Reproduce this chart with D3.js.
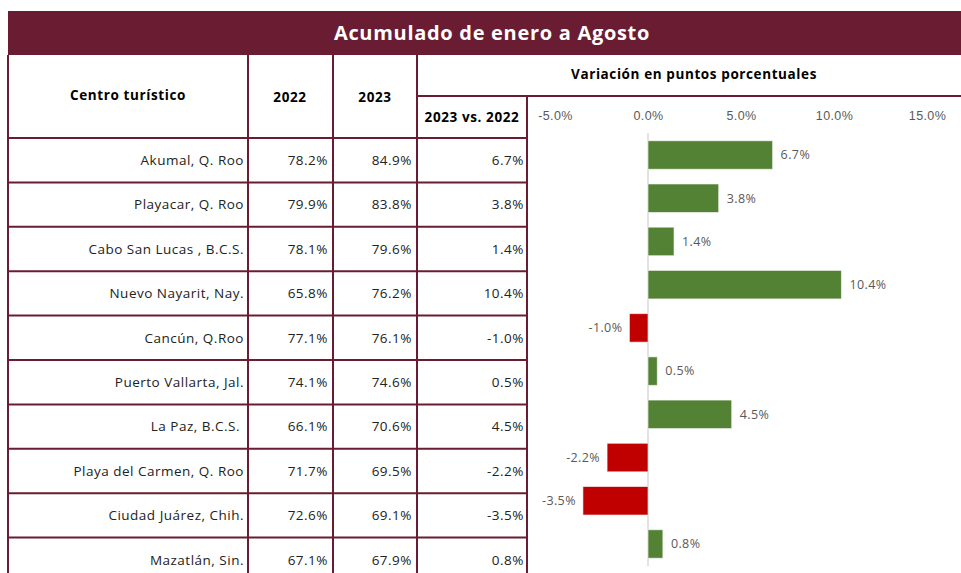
<!DOCTYPE html>
<html lang="es">
<head>
  <meta charset="UTF-8">
  <title>Acumulado de enero a Agosto</title>
  <script src="https://d3js.org/d3.v7.min.js"></script>
  <style>
    body { margin: 0; background: #fff; font-family: "Open Sans", sans-serif; }
    svg { display: block; }
    .hdr { font-weight: bold; font-size: 13.5px; fill: #000; text-anchor: middle; letter-spacing: 0.6px; }
    .cell { font-size: 13.5px; fill: #222; text-anchor: end; white-space: pre; letter-spacing: 0.5px; }
    .val { font-size: 12.5px; fill: #595959; letter-spacing: 0.4px; }
    .axis text { font-size: 12.5px; fill: #595959; letter-spacing: 0.4px; }
  </style>
</head>
<body>
<script>
  const places = [
    "Akumal, Q. Roo", "Playacar, Q. Roo", "Cabo San Lucas , B.C.S.", "Nuevo Nayarit, Nay.",
    "Cancún, Q.Roo", "Puerto Vallarta, Jal.", "La Paz, B.C.S. ", "Playa del Carmen, Q. Roo",
    "Ciudad Juárez, Chih.", "Mazatlán, Sin."
  ];
  const occ2022 = [78.2, 79.9, 78.1, 65.8, 77.1, 74.1, 66.1, 71.7, 72.6, 67.1];
  const occ2023 = [84.9, 83.8, 79.6, 76.2, 76.1, 74.6, 70.6, 69.5, 69.1, 67.9];
  const change = [6.7, 3.8, 1.4, 10.4, -1.0, 0.5, 4.5, -2.2, -3.5, 0.8];
  const xTicks = [-5, 0, 5, 10, 15];

  const W = 961, H = 573;
  const maroon = "#691c32";
  const fmt = d => d.toFixed(1) + "%";

  const svg = d3.select("body").append("svg").attr("width", W).attr("height", H);

  // column edges of the table
  const colX = [8, 248, 333, 417, 527];
  const tableTop = 138;

  const rowY = d3.scaleBand().domain(places).range([tableTop, tableTop + 44.4 * places.length]);
  const barY = d3.scaleBand().domain(places).range([133.4, 565.6]).paddingInner(0.34).paddingOuter(0.17);
  const x = d3.scaleLinear().domain([-5, 15]).range([555, 927]);

  // title band
  svg.append("rect").attr("x", 8).attr("y", 11).attr("width", W - 8).attr("height", 44).attr("fill", maroon);
  svg.append("text").attr("x", 492).attr("y", 33).attr("dy", "0.35em")
    .attr("text-anchor", "middle").attr("fill", "#fff")
    .style("font-weight", "bold").style("font-size", "20px").style("letter-spacing", "0.7px")
    .text("Acumulado de enero a Agosto");

  // header texts
  svg.append("text").attr("class", "hdr").attr("x", 128).attr("y", 95).attr("dy", "0.35em").text("Centro turístico");
  svg.append("text").attr("class", "hdr").attr("x", 290).attr("y", 97).attr("dy", "0.35em").text("2022");
  svg.append("text").attr("class", "hdr").attr("x", 375).attr("y", 97).attr("dy", "0.35em").text("2023");
  svg.append("text").attr("class", "hdr").attr("x", 472).attr("y", 117).attr("dy", "0.35em").text("2023 vs. 2022");
  svg.append("text").attr("class", "hdr").attr("x", 694).attr("y", 74).attr("dy", "0.35em").text("Variación en puntos porcentuales");

  // grid lines
  const grid = svg.append("g").attr("stroke", maroon).attr("stroke-width", 2).attr("fill", "none");
  const tableBottom = rowY.range()[1];
  colX.forEach((cx, i) => {
    const top = i === colX.length - 1 ? 96 : 55;
    grid.append("line").attr("x1", cx).attr("x2", cx).attr("y1", top).attr("y2", tableBottom);
  });
  grid.append("line").attr("x1", 417).attr("x2", W).attr("y1", 96).attr("y2", 96);
  places.forEach(p => {
    grid.append("line").attr("x1", 8).attr("x2", 527).attr("y1", rowY(p)).attr("y2", rowY(p));
  });

  // table rows
  const rows = svg.append("g").selectAll("g").data(places).join("g")
    .attr("transform", p => `translate(0,${rowY(p) + rowY.bandwidth() / 2})`);
  const cols = [
    { x: 244, v: (p, i) => p },
    { x: 328, v: (p, i) => fmt(occ2022[i]) },
    { x: 412, v: (p, i) => fmt(occ2023[i]) },
    { x: 524, v: (p, i) => fmt(change[i]) }
  ];
  cols.forEach(c => {
    rows.append("text").attr("class", "cell").attr("x", c.x).attr("dy", "0.35em").text(c.v);
  });

  // axis on top
  const axis = svg.append("g").attr("class", "axis").attr("transform", "translate(0,116)")
    .call(d3.axisTop(x).tickValues(xTicks).tickFormat(fmt).tickSize(0).tickPadding(0));
  axis.select(".domain").remove();
  axis.selectAll("text").attr("dy", "0.35em");

  // zero line
  svg.append("line").attr("x1", x(0)).attr("x2", x(0)).attr("y1", 133).attr("y2", 566)
    .attr("stroke", "#d9d9d9").attr("stroke-width", 1.5);

  // bars
  const bars = svg.append("g").selectAll("g").data(places).join("g");
  bars.append("rect")
    .attr("x", (p, i) => x(Math.min(0, change[i])))
    .attr("y", p => barY(p))
    .attr("width", (p, i) => Math.abs(x(change[i]) - x(0)))
    .attr("height", barY.bandwidth())
    .attr("fill", (p, i) => change[i] >= 0 ? "#548235" : "#c00000")
    .attr("stroke", "#fff").attr("stroke-opacity", 0.6).attr("stroke-width", 1);
  bars.append("text").attr("class", "val")
    .attr("x", (p, i) => change[i] >= 0 ? x(change[i]) + 8 : x(change[i]) - 7)
    .attr("y", p => barY(p) + barY.bandwidth() / 2)
    .attr("dy", "0.35em")
    .attr("text-anchor", (p, i) => change[i] >= 0 ? "start" : "end")
    .text((p, i) => fmt(change[i]));
</script>
</body>
</html>
